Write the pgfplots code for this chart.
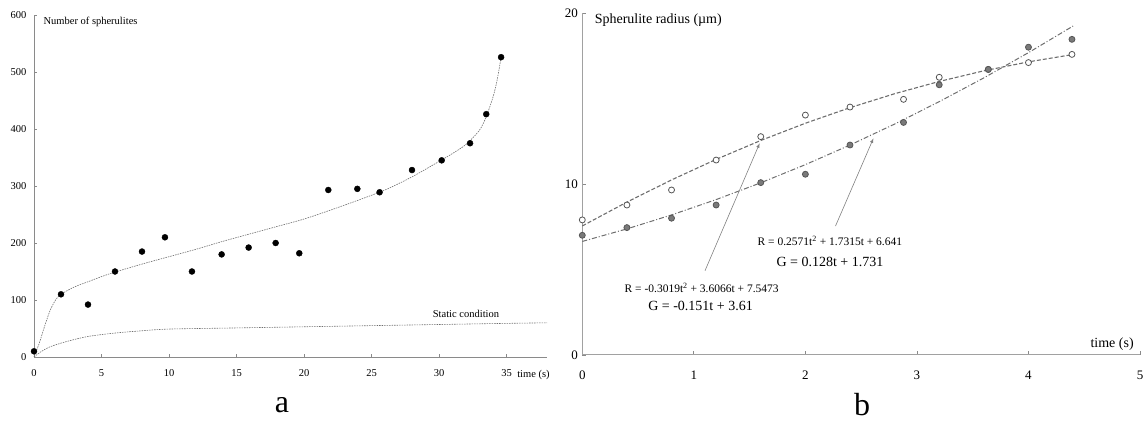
\documentclass[border=0pt]{standalone}
\usepackage{pgfplots}
\pgfplotsset{compat=1.18}
\usepackage{fontspec}
\setmainfont{Liberation Serif}
\definecolor{axgray}{HTML}{8A8A8A}
\definecolor{fitgray}{HTML}{6E6E6E}
\definecolor{ptfill}{HTML}{7A7A7A}
\definecolor{ptedge}{HTML}{555555}
\begin{document}
\begin{tikzpicture}
\useasboundingbox (0,0) rectangle (1144pt,425pt);
% ---------------- panel a ----------------
\begin{axis}[
  at={(34pt,68pt)}, anchor=south west,
  scale only axis, width=513pt, height=342pt,
  xmin=0, xmax=38, ymin=0, ymax=600,
  axis x line=bottom, axis y line=left,
  axis line style={-, axgray, line width=0.8pt},
  tick style={axgray, line width=0.6pt},
  tick align=inside, major tick length=3pt,
  xtick={0,5,...,35}, ytick={0,100,...,600},
  /pgf/number format/assume math mode=true,
  tick label style={font=\fontsize{10.5}{10.5}\selectfont},
  xticklabel style={yshift=-9pt},
  yticklabel style={xshift=-4pt},
  clip=false,
]
\addplot[fitgray, line width=0.6pt, dash pattern=on 1.5pt off 1pt, smooth] coordinates {
(0,0) (0.4,25) (0.8,55) (1.2,82) (1.6,100) (2,110) (3,123) (4,132) (5,141) (6,149)
(8,163) (10,176) (12,189) (14,203) (16,216) (18,229) (20,242) (22,258) (24,275)
(26,293) (28,316) (30,343) (31,357) (32,373) (33,398) (33.5,422) (34,456) (34.3,485) (34.6,526)};
\addplot[fitgray, line width=0.6pt, dash pattern=on 1.5pt off 1pt, smooth] coordinates {
(0,0) (0.5,9) (1.2,18) (2.4,27) (4,36) (6,42) (8,46) (10,49) (15,51) (20,53) (25,55) (30,57) (35,59) (38,60)};
\addplot[only marks, mark=*, mark size=3pt, black] coordinates {
(0,10) (2,110) (4,92) (6,150) (8,185) (9.7,210) (11.7,150) (13.9,180) (15.9,192)
(17.9,200) (19.65,182) (21.8,293) (23.95,295) (25.6,289) (28,328) (30.2,345)
(32.3,375) (33.5,426) (34.6,526)};
\node[font=\fontsize{10.5}{10.5}\selectfont, anchor=west] at (axis cs:0.45,588) {Number of spherulites};
\node[font=\fontsize{10.5}{10.5}\selectfont] at (axis cs:32,75) {Static condition};
\node[font=\fontsize{10.5}{10.5}\selectfont] at (axis cs:37,-32) {time (s)};
\end{axis}
% ---------------- panel b ----------------
\begin{axis}[
  at={(582.3pt,70pt)}, anchor=south west,
  scale only axis, width=557.7pt, height=342pt,
  xmin=0, xmax=5, ymin=0, ymax=20,
  axis x line=bottom, axis y line=left,
  axis line style={-, axgray!80, line width=1pt},
  tick style={axgray, line width=0.8pt},
  tick align=inside, major tick length=4pt,
  xtick={0,1,...,5}, ytick={0,10,20},
  /pgf/number format/assume math mode=true,
  tick label style={font=\fontsize{13}{13}\selectfont},
  xticklabel style={yshift=-12pt},
  yticklabel style={xshift=-1pt},
  clip=false,
]
\addplot[fitgray, line width=1.1pt, dash pattern=on 4pt off 2pt] coordinates {
(0,7.547) (0.4,8.942) (0.8,10.239) (1.2,11.440) (1.6,12.545) (2.0,13.553) (2.4,14.464)
(2.8,15.279) (3.2,15.997) (3.6,16.619) (4.0,17.143) (4.4,17.572)};
\addplot[fitgray, line width=1pt, dash pattern=on 5pt off 2pt on 1pt off 2pt] coordinates {
(0,6.641) (0.4,7.375) (0.8,8.191) (1.2,9.089) (1.6,10.070) (2.0,11.132) (2.4,12.278)
(2.8,13.505) (3.2,14.815) (3.6,16.206) (4.0,17.681) (4.4,19.237)};
\addplot[only marks, mark=*, mark size=3pt, mark options={fill=ptfill, draw=ptedge, line width=0.8pt}] coordinates {
(0,7.0) (0.4,7.45) (0.8,8.0) (1.2,8.77) (1.6,10.08) (2.0,10.57) (2.4,12.28) (2.88,13.6)
(3.2,15.8) (3.64,16.7) (4.0,18.0) (4.39,18.46)};
\addplot[only marks, mark=*, mark size=3pt, mark options={fill=white, draw=ptedge, line width=0.8pt}] coordinates {
(0,7.9) (0.4,8.77) (0.8,9.65) (1.2,11.4) (1.6,12.77) (2.0,14.03) (2.4,14.5) (2.88,14.95)
(3.2,16.24) (4.0,17.1) (4.39,17.58)};
\addplot[only marks, mark=*, mark size=3pt, mark options={fill=ptfill, draw=ptedge, line width=0.8pt}] coordinates {(3.64,16.7)};
\draw[-latex, gray, line width=0.6pt] (axis cs:1.1,4.93) -- (axis cs:1.59,12.38);
\draw[-latex, gray, line width=0.6pt] (axis cs:2.27,7.54) -- (axis cs:2.61,12.67);
\node[font=\fontsize{14}{14}\selectfont, anchor=west] at (axis cs:0.08,19.6) {Spherulite radius (µm)};
\node[font=\fontsize{14}{14}\selectfont] at (axis cs:4.75,0.64) {time (s)};
\node[font=\fontsize{11.5}{11.5}\selectfont] at (axis cs:2.22,6.67) {R = 0.2571t\textsuperscript{2} + 1.7315t + 6.641};
\node[font=\fontsize{14}{14}\selectfont] at (axis cs:2.22,5.44) {G = 0.128t + 1.731};
\node[font=\fontsize{11.5}{11.5}\selectfont] at (axis cs:1.07,3.92) {R = -0.3019t\textsuperscript{2} + 3.6066t + 7.5473};
\node[font=\fontsize{14}{14}\selectfont] at (axis cs:1.06,2.87) {G = -0.151t + 3.61};
\end{axis}
\node[font=\fontsize{32}{32}\selectfont] at (282pt,20pt) {a};
\node[font=\fontsize{32}{32}\selectfont] at (862pt,20pt) {b};
\end{tikzpicture}
\end{document}
